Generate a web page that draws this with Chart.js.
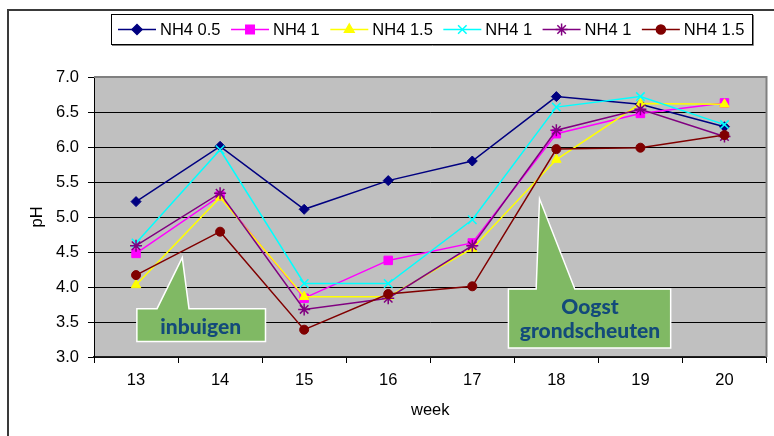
<!DOCTYPE html>
<html>
<head>
<meta charset="utf-8">
<script src="https://cdn.jsdelivr.net/npm/chart.js@4/dist/chart.umd.min.js"></script>
<style>
  html, body { margin: 0; padding: 0; background: #fff; }
  #wrap { width: 774px; height: 436px; }
</style>
</head>
<body>
<div id="wrap"><canvas id="phChart" width="774" height="436"></canvas></div>
<script>
// week numbers on the x axis
const weeks = ["13", "14", "15", "16", "17", "18", "19", "20"];

// pH per series
const nh4_05 = [5.22, 6.01, 5.11, 5.52, 5.80, 6.72, 6.61, 6.29];
const nh4_1a = [4.48, 5.30, 3.84, 4.38, 4.63, 6.19, 6.48, 6.63];
const nh4_15a = [4.03, 5.28, 3.86, 3.86, 4.55, 5.82, 6.62, 6.61];
const nh4_1b = [4.63, 5.96, 4.05, 4.05, 4.96, 6.57, 6.72, 6.32];
const nh4_1c = [4.59, 5.34, 3.68, 3.84, 4.59, 6.24, 6.54, 6.15];
const nh4_15b = [4.17, 4.79, 3.39, 3.90, 4.01, 5.97, 5.99, 6.17];

const seriesLabels = ["NH4 0.5", "NH4 1", "NH4 1.5", "NH4 1", "NH4 1", "NH4 1.5"];
const seriesValues = [nh4_05, nh4_1a, nh4_15a, nh4_1b, nh4_1c, nh4_15b];
const seriesColors = ["#000080", "#ff00ff", "#ffff00", "#00ffff", "#800080", "#800000"];
const seriesMarkers = ["rectRot", "rect", "triangle", "crossRot", "star", "circle"];
const markerRadius = [5, 6, 5.5, 6, 6, 4.5];

const yTicks = [3.0, 3.5, 4.0, 4.5, 5.0, 5.5, 6.0, 6.5, 7.0];

// callout notes: box corners and pointer in (category index, pH) units
const notes = [
  { lines: ["inbuigen"], box: [0.01, 3.69, 1.54, 3.22], base: [0.25, 0.63], tip: [0.55, 4.42], text: [0.77, 3.43] },
  { lines: ["Oogst", "grondscheuten"], box: [4.43, 3.97, 6.36, 3.13], base: [4.76, 5.22], tip: [4.80, 5.26], text: [5.40, 3.54] }
];

const FONT = "'Liberation Sans', Arial, sans-serif";

const datasets = seriesValues.map((vals, i) => ({
  label: seriesLabels[i],
  data: vals,
  borderColor: seriesColors[i],
  backgroundColor: seriesColors[i],
  borderWidth: 1.5,
  pointStyle: seriesMarkers[i],
  pointRadius: markerRadius[i],
  pointBorderWidth: (seriesMarkers[i] === "crossRot" || seriesMarkers[i] === "star") ? 1.5 : 1,
  tension: 0,
  order: seriesValues.length - 1 - i
}));

function drawMarker(ctx, style, r, x, y) {
  if (Chart.helpers && Chart.helpers.drawPoint) {
    Chart.helpers.drawPoint(ctx, { pointStyle: style, radius: r, rotation: 0, borderWidth: 1.5 }, x, y);
  } else {
    ctx.beginPath();
    ctx.arc(x, y, r, 0, Math.PI * 2);
    ctx.fill();
    ctx.stroke();
  }
}

const framePlugin = {
  id: "frame",
  beforeDraw(chart) {
    const { ctx, chartArea: a } = chart;
    ctx.save();
    ctx.fillStyle = "#fff";
    ctx.fillRect(0, 0, chart.width, chart.height);
    ctx.fillStyle = "#c0c0c0";
    ctx.fillRect(a.left, a.top, a.right - a.left, a.bottom - a.top);
    // outer chart frame (left and top visible)
    ctx.strokeStyle = "#3a3a3a";
    ctx.lineWidth = 2;
    ctx.beginPath();
    ctx.moveTo(8, 436);
    ctx.lineTo(8, 10);
    ctx.lineTo(774, 10);
    ctx.stroke();
    ctx.restore();
  },
  afterDraw(chart) {
    const { ctx, chartArea: a } = chart;
    ctx.save();
    // plot area gray border top/right
    ctx.strokeStyle = "#808080";
    ctx.lineWidth = 2;
    ctx.beginPath();
    ctx.moveTo(a.left, a.top);
    ctx.lineTo(a.right, a.top);
    ctx.lineTo(a.right, a.bottom);
    ctx.stroke();

    // legend
    const lx = 111, ly = 14, lw = 641, lh = 30;
    ctx.fillStyle = "#fff";
    ctx.fillRect(lx, ly, lw, lh);
    ctx.strokeStyle = "#808080";
    ctx.lineWidth = 1;
    ctx.beginPath();
    ctx.moveTo(lx + lw + 1.5, ly + 1);
    ctx.lineTo(lx + lw + 1.5, ly + lh + 1.5);
    ctx.lineTo(lx + 1, ly + lh + 1.5);
    ctx.stroke();
    ctx.strokeStyle = "#000";
    ctx.strokeRect(lx + 0.5, ly + 0.5, lw, lh);
    ctx.font = "16.5px " + FONT;
    ctx.textBaseline = "middle";
    ctx.textAlign = "left";
    let x = 118;
    const cy = ly + lh / 2 + 0.5;
    seriesLabels.forEach((lab, i) => {
      ctx.strokeStyle = seriesColors[i];
      ctx.fillStyle = seriesColors[i];
      ctx.lineWidth = 1.5;
      ctx.beginPath();
      ctx.moveTo(x, cy);
      ctx.lineTo(x + 38, cy);
      ctx.stroke();
      drawMarker(ctx, seriesMarkers[i], markerRadius[i], x + 19, cy);
      ctx.fillStyle = "#000";
      ctx.fillText(lab, x + 42, cy + 1);
      x += 42 + ctx.measureText(lab).width + 10.5;
    });

    // callouts
    const xs = chart.scales.x, ys = chart.scales.y;
    const px = v => xs.getPixelForValue(v);
    const py = v => ys.getPixelForValue(v);
    notes.forEach(n => {
      const x1 = px(n.box[0]), y1 = py(n.box[1]), x2 = px(n.box[2]), y2 = py(n.box[3]);
      ctx.beginPath();
      ctx.moveTo(x1, y1);
      ctx.lineTo(px(n.base[0]), y1);
      ctx.lineTo(px(n.tip[0]), py(n.tip[1]));
      ctx.lineTo(px(n.base[1]), y1);
      ctx.lineTo(x2, y1);
      ctx.lineTo(x2, y2);
      ctx.lineTo(x1, y2);
      ctx.closePath();
      ctx.fillStyle = "#80b964";
      ctx.fill();
      ctx.strokeStyle = "#ffffff";
      ctx.lineWidth = 1.5;
      ctx.stroke();
      ctx.fillStyle = "#134a7a";
      ctx.font = "900 21px Lato, 'Open Sans', sans-serif";
      ctx.textAlign = "center";
      ctx.textBaseline = "middle";
      const tx = px(n.text[0]);
      const ty = py(n.text[1]);
      const lhgt = 24;
      const start = ty - (n.lines.length - 1) * lhgt / 2;
      n.lines.forEach((t, k) => ctx.fillText(t, tx, start + k * lhgt));
    });
    ctx.restore();
  }
};

new Chart(document.getElementById("phChart").getContext("2d"), {
  type: "line",
  data: { labels: weeks, datasets: datasets },
  options: {
    responsive: false,
    animation: false,
    devicePixelRatio: 1,
    layout: { padding: { top: 77, right: 1, left: 0, bottom: 0 } },
    plugins: {
      legend: { display: false },
      tooltip: { enabled: false }
    },
    scales: {
      x: {
        offset: true,
        grid: {
          offset: true,
          drawOnChartArea: false,
          tickLength: 6,
          tickColor: "#000",
          tickWidth: 1
        },
        border: { display: true, color: "#202020", width: 1.5 },
        ticks: { color: "#000", font: { family: FONT, size: 16.5 }, padding: 8, maxRotation: 0 },
        title: {
          display: true,
          text: "week",
          color: "#000",
          font: { family: FONT, size: 16.5 },
          padding: { top: 0, bottom: 16 }
        },
        afterFit: s => { s.height = 79; }
      },
      y: {
        min: 3,
        max: 7,
        afterBuildTicks: s => { s.ticks = yTicks.map(v => ({ value: v })); },
        grid: {
          color: c => (c.tick && c.tick.value === 7 ? "#808080" : "#000"),
          lineWidth: 1,
          tickLength: 6,
          tickColor: "#000"
        },
        border: { display: true, color: "#000", width: 1 },
        ticks: {
          color: "#000",
          font: { family: FONT, size: 16.5 },
          padding: 9,
          callback: v => Number(v).toFixed(1)
        },
        title: {
          display: true,
          text: "pH",
          color: "#000",
          font: { family: FONT, size: 16.5 },
          padding: { top: 28, bottom: 0 }
        },
        afterFit: s => { s.width = 94; }
      }
    }
  },
  plugins: [framePlugin]
});
</script>
</body>
</html>
